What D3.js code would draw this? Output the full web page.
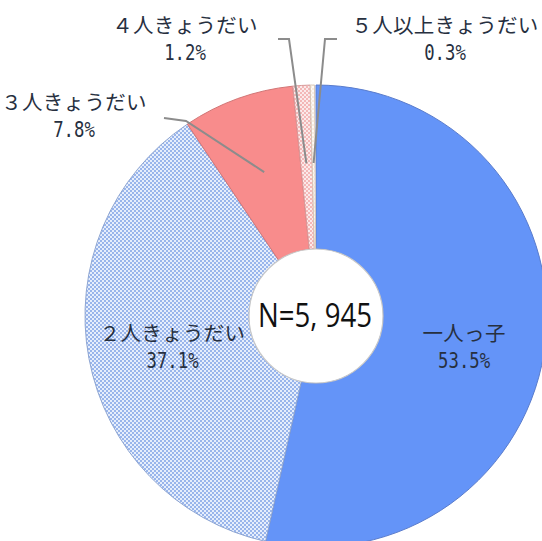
<!DOCTYPE html>
<html>
<head>
<meta charset="utf-8">
<script src="https://cdn.jsdelivr.net/npm/d3@7"></script>
<style>
  html, body { margin: 0; padding: 0; background: #fff; }
  svg { display: block; }
</style>
</head>
<body>
<svg id="chart" width="542" height="541"></svg>
<script>
// Sibling composition of respondents
const categories = ["一人っ子", "２人きょうだい", "３人きょうだい", "４人きょうだい", "５人以上きょうだい"];
const shares = [53.5, 37.1, 7.8, 1.2, 0.3];
const percentLabels = ["53.5%", "37.1%", "7.8%", "1.2%", "0.3%"];
const sampleLabel = "N=5, 945";

// Presentation settings (not data)
const fills = ["#6494f8", "url(#dots-blue)", "#f88c8c", "url(#dots-pink)", "url(#dots-cream)"];
const strokes = ["#5a7ccc", "#8fa6d2", "#d27676", "#d99a9a", "#d8c8b8"];
const inside = [true, true, false, false, false];
// small nudges of the in-slice labels away from their centroids
const insideNudge = { 0: [0, 0], 1: [3, -11] };
// anchor of outside labels (centre of name line) and the label end of each leader line
const outsideLayout = {
  2: { x: 74, y: 101, hook: [[164, 118], [186, 121]] },
  3: { x: 185, y: 24, hook: [[278, 39], [289, 39]] },
  4: { x: 445, y: 24, hook: [[337, 39], [325, 39]] }
};

const cx = 316, cy = 316, outerR = 231, innerR = 67;
const svg = d3.select("#chart");
const defs = svg.append("defs");

function dotPattern(id, bg, dot, size, r) {
  const p = defs.append("pattern").attr("id", id)
    .attr("patternUnits", "userSpaceOnUse")
    .attr("width", size).attr("height", size);
  p.append("rect").attr("width", size).attr("height", size).attr("fill", bg);
  p.append("circle").attr("cx", size / 4).attr("cy", size / 4).attr("r", r).attr("fill", dot);
  p.append("circle").attr("cx", size * 3 / 4).attr("cy", size * 3 / 4).attr("r", r).attr("fill", dot);
}
dotPattern("dots-blue", "#e6eefc", "#7fa2e6", 4, 1.0);
dotPattern("dots-pink", "#fbeaea", "#f0a2a2", 4, 0.95);
dotPattern("dots-cream", "#fdfaf6", "#f0d9c4", 4, 0.8);

const pie = d3.pie().sort(null).value(d => d)
  .startAngle(0).endAngle(2 * Math.PI * d3.sum(shares) / 100);
const arcs = pie(shares);
const arc = d3.arc().innerRadius(innerR).outerRadius(outerR);
const labelArc = d3.arc().innerRadius(149).outerRadius(149);
const pointArc = d3.arc().innerRadius(153).outerRadius(153);

const g = svg.append("g").attr("transform", `translate(${cx},${cy})`);

g.selectAll("path.slice").data(arcs).join("path")
  .attr("class", "slice")
  .attr("d", arc)
  .attr("fill", (d, i) => fills[i])
  .attr("stroke", (d, i) => strokes[i])
  .attr("stroke-width", 1);

// centre disc outline
g.append("circle").attr("r", innerR).attr("fill", "#fff")
  .attr("stroke", "#c9c9c9").attr("stroke-width", 1.2);

const nameFont = "'Noto Sans CJK JP', 'Noto Sans', sans-serif";
const numFont = "'DejaVu Sans Mono', 'Liberation Mono', monospace";
const textColor = "#27303f";

function drawLabel(x, y, i) {
  svg.append("text")
    .attr("x", x).attr("y", y)
    .attr("text-anchor", "middle").attr("dominant-baseline", "central")
    .attr("font-family", nameFont).attr("font-size", 20.5).attr("letter-spacing", 0.3)
    .attr("fill", textColor)
    .text(categories[i]);
  const s = percentLabels[i];
  svg.append("text")
    .attr("x", x).attr("y", y + 29)
    .attr("text-anchor", "middle").attr("dominant-baseline", "central")
    .attr("font-family", numFont).attr("font-size", 21)
    .attr("textLength", s.length * 10.4).attr("lengthAdjust", "spacingAndGlyphs")
    .attr("fill", textColor)
    .text(s);
}

// leader lines from outside labels into their slices
arcs.forEach((d, i) => {
  if (inside[i]) return;
  const L = outsideLayout[i];
  const [px, py] = pointArc.centroid(d);
  const pts = L.hook.concat([[cx + px, cy + py]]);
  svg.append("path")
    .attr("d", d3.line()(pts))
    .attr("fill", "none").attr("stroke", "#8c8c8c").attr("stroke-width", 2);
});

arcs.forEach((d, i) => {
  if (inside[i]) {
    const [lx, ly] = labelArc.centroid(d);
    const [nx, ny] = insideNudge[i];
    drawLabel(cx + lx + nx, cy + ly + ny, i);
  } else {
    const L = outsideLayout[i];
    drawLabel(L.x, L.y, i);
  }
});

svg.append("text")
  .attr("x", cx - 1).attr("y", cy - 2)
  .attr("text-anchor", "middle").attr("dominant-baseline", "central")
  .attr("font-family", "'Open Sans', 'Noto Sans', sans-serif").attr("font-size", 33)
  .attr("textLength", 114).attr("lengthAdjust", "spacingAndGlyphs")
  .attr("fill", "#111")
  .text(sampleLabel);
</script>
</body>
</html>
